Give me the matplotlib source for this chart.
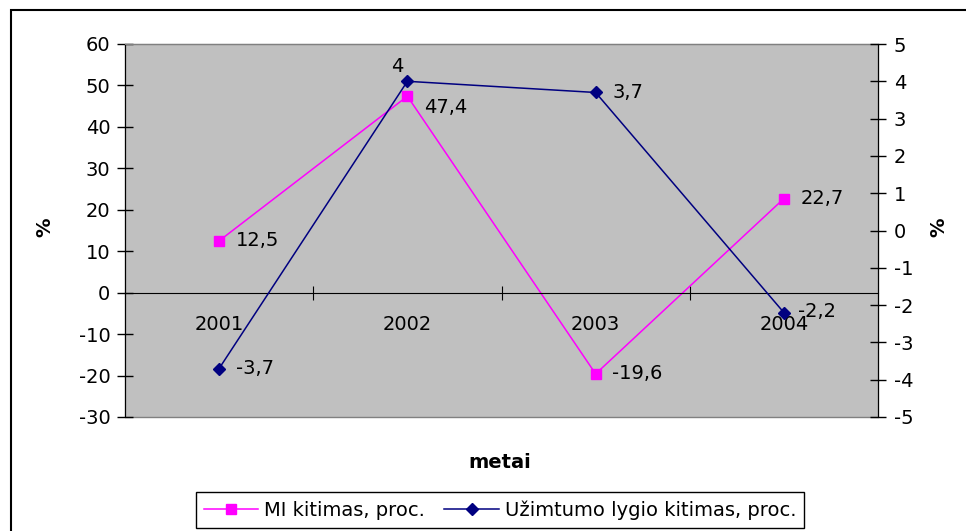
import matplotlib.pyplot as plt
from matplotlib.patches import Rectangle
from matplotlib.ticker import MultipleLocator, FixedLocator

plt.rcParams['font.family'] = ['DejaVu Sans']
plt.rcParams['axes.unicode_minus'] = False

# duomenys
years = ['2001', '2002', '2003', '2004']
mi_values = [12.5, 47.4, -19.6, 22.7]
uz_values = [-3.7, 4, 3.7, -2.2]
mi_labels = ['12,5', '47,4', '-19,6', '22,7']
uz_labels = ['-3,7', '4', '3,7', '-2,2']

fig = plt.figure(figsize=(9.66, 5.31), dpi=100)
ax = fig.add_axes([125 / 966, 1 - 417 / 531, 753 / 966, 373 / 531])
ax2 = ax.twinx()

fs = 14
x = list(range(len(years)))

ax.set_facecolor('#C0C0C0')
ax.set_xlim(-0.5, 3.5)
ax.set_ylim(-30, 60)
ax2.set_ylim(-5, 5)

l1, = ax.plot(x, mi_values, color='#FF00FF', lw=1.1, marker='s', markersize=6.5,
              label='MI kitimas, proc.')
l2, = ax2.plot(x, uz_values, color='#000080', lw=1.1, marker='D', markersize=6,
               label='Užimtumo lygio kitimas, proc.')

# reikšmių etiketės
mi_off = [(12, 0), (12, -8), (12, 0), (12, 0)]
uz_off = [(12, 0), (-7, 11), (12, 0), (10, 1)]
for i in x:
    ax.annotate(mi_labels[i], (i, mi_values[i]), xytext=mi_off[i], textcoords='offset points',
                ha='left', va='center', fontsize=fs)
    ha2 = 'center' if uz_off[i][0] < 0 else 'left'
    ax2.annotate(uz_labels[i], (i, uz_values[i]), xytext=uz_off[i], textcoords='offset points',
                 ha=ha2, va='center', fontsize=fs)

# ašys
for sp in ['top', 'bottom', 'left', 'right']:
    ax2.spines[sp].set_visible(False)
ax2.spines['right'].set_visible(True)
ax2.spines['right'].set_color('black')
ax.spines['top'].set_color('#808080')
ax.spines['right'].set_visible(False)
ax.spines['left'].set_color('black')
ax.spines['bottom'].set_position(('data', 0))
ax.spines['bottom'].set_color('black')
ax.patch.set_edgecolor('#808080')
ax.patch.set_linewidth(1)

ax.set_xticks(x)
ax.set_xticklabels(years, fontsize=fs)
ax.xaxis.set_minor_locator(FixedLocator([0.5, 1.5, 2.5]))
ax.tick_params(axis='x', which='major', length=0, pad=16)
ax.tick_params(axis='x', which='minor', direction='inout', length=10, width=0.8)

ax.yaxis.set_major_locator(MultipleLocator(10))
ax.tick_params(axis='y', direction='inout', length=11, width=1, pad=5, labelsize=fs)
ax2.yaxis.set_major_locator(MultipleLocator(1))
ax2.tick_params(axis='y', direction='inout', length=11, width=1, pad=6, labelsize=fs)

ax.set_ylabel('%', fontsize=fs, fontweight='bold')
ax.yaxis.set_label_coords(-0.094, 0.51)
ax2.set_ylabel('%', fontsize=fs, fontweight='bold', rotation=90)
ax2.yaxis.set_label_coords(1.068, 0.51)
ax.set_xlabel('metai', fontsize=fs, fontweight='bold')
ax.xaxis.set_label_coords(0.498, -0.097)

fig.legend(handles=[l1, l2], loc='center', bbox_to_anchor=(500 / 966, 1 - 510 / 531),
           ncol=2, fontsize=fs, frameon=True, fancybox=False, edgecolor='black',
           framealpha=1, handlelength=2.8, columnspacing=1.0, handletextpad=0.3,
           borderpad=0.4, borderaxespad=0)

# išorinis rėmelis
fig.patches.append(Rectangle((11 / 966, -1), 2, 1 - 10 / 531 + 1, transform=fig.transFigure,
                             fill=False, edgecolor='black', lw=1.5))

fig.savefig('out.png', dpi=100)
